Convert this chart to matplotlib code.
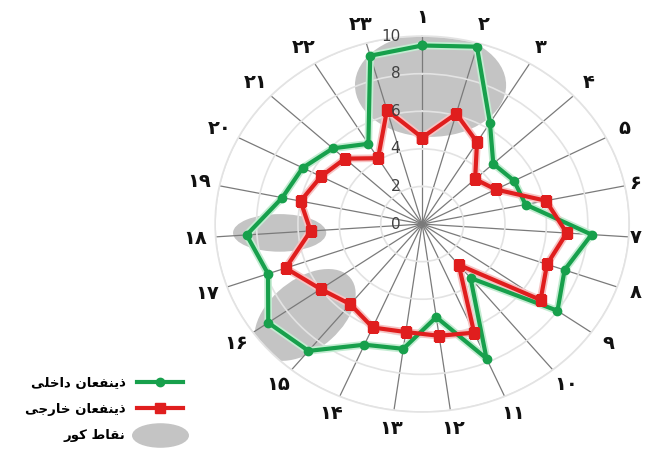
import matplotlib
matplotlib.use("Agg")
import matplotlib.pyplot as plt
from matplotlib.patches import Ellipse
from matplotlib.lines import Line2D
from matplotlib.path import Path
import matplotlib.transforms as mtransforms
import numpy as np

# ---- data ----
categories = ["۱", "۲", "۳", "۴", "۵", "۶", "۷", "۸", "۹", "۱۰", "۱۱", "۱۲",
              "۱۳", "۱۴", "۱۵", "۱۶", "۱۷", "۱۸", "۱۹", "۲۰", "۲۱", "۲۲", "۲۳"]
internal = [9.5, 9.8, 6.3, 4.7, 5.0, 5.1, 8.2, 7.3, 8.0, 3.7, 7.8, 5.0,
            6.7, 7.0, 8.7, 9.1, 7.9, 8.5, 6.9, 6.5, 5.9, 5.0, 9.3]
external = [4.6, 6.1, 5.1, 3.5, 4.0, 6.1, 7.0, 6.4, 7.0, 2.8, 6.3, 6.0,
            5.8, 6.0, 5.5, 6.0, 7.0, 5.4, 6.0, 5.5, 5.1, 4.1, 6.3]
r_ticks = [0, 2, 4, 6, 8, 10]
label_internal = "ذینفعان داخلی"
label_external = "ذینفعان خارجی"
label_blind = "نقاط کور"
# blind spots: (axis position, radius, width, height, angle) in value units
blind_spots = [(0.2, 7.4, 7.3, 5.5, 0),
               (17.0, 6.9, 4.5, 2.0, 0),
               (14.66, 7.44, 5.9, 3.6, 45)]

# minimal arabic/persian shaping (no reshaper installed)
FORMS = {
    "ا": ("\uFE8D", "\uFE8E", None, None),
    "د": ("\uFEA9", "\uFEAA", None, None),
    "ذ": ("\uFEAB", "\uFEAC", None, None),
    "ر": ("\uFEAD", "\uFEAE", None, None),
    "و": ("\uFEED", "\uFEEE", None, None),
    "ن": ("\uFEE5", "\uFEE6", "\uFEE7", "\uFEE8"),
    "ف": ("\uFED1", "\uFED2", "\uFED3", "\uFED4"),
    "ع": ("\uFEC9", "\uFECA", "\uFECB", "\uFECC"),
    "خ": ("\uFEA5", "\uFEA6", "\uFEA7", "\uFEA8"),
    "ل": ("\uFEDD", "\uFEDE", "\uFEDF", "\uFEE0"),
    "ج": ("\uFE9D", "\uFE9E", "\uFE9F", "\uFEA0"),
    "ق": ("\uFED5", "\uFED6", "\uFED7", "\uFED8"),
    "ط": ("\uFEC1", "\uFEC2", "\uFEC3", "\uFEC4"),
    "ی": ("\uFBFC", "\uFBFD", "\uFBFE", "\uFBFF"),
    "ک": ("\uFB8E", "\uFB8F", "\uFB90", "\uFB91"),
}


def shape(txt):
    out = []
    for i, ch in enumerate(txt):
        if ch not in FORMS:
            out.append(ch)
            continue
        prev = txt[i - 1] if i > 0 else ""
        nxt = txt[i + 1] if i + 1 < len(txt) else ""
        j_prev = prev in FORMS and FORMS[prev][2] is not None
        j_next = FORMS[ch][2] is not None and nxt in FORMS
        f = FORMS[ch]
        if j_prev and j_next:
            out.append(f[3])
        elif j_prev:
            out.append(f[1])
        elif j_next:
            out.append(f[2])
        else:
            out.append(f[0])
    return "".join(out)[::-1]


green = "#17a04c"
red = "#e01e1e"
gray = "#c4c4c4"

n = len(categories)
theta = np.arange(n) * 2 * np.pi / n

fig = plt.figure(figsize=(6.46, 4.54), dpi=100)
ax = fig.add_axes([0.333, 0.0925, 0.641, 0.828], projection="polar")
ax.set_aspect("auto")
ax.set_theta_zero_location("N")
ax.set_theta_direction(-1)
ax.set_ylim(0, 10)

ax.set_xticks(theta)
ax.set_xticklabels([])
ax.set_yticks(r_ticks)
ax.set_yticklabels([])
ax.xaxis.grid(True, color="#7a7a7a", linewidth=0.9)
ax.yaxis.grid(True, color="#e3e3e3", linewidth=1.2)
ax.spines["polar"].set_color("#e3e3e3")
ax.spines["polar"].set_linewidth(1.2)
ax.tick_params(length=0)

# blind spot ellipses, placed in axes fraction from polar position
for pos, rr, w, h, ang in blind_spots:
    t = pos * 2 * np.pi / n
    cx = 0.5 + 0.5 * rr * np.sin(t) / 10
    cy = 0.5 + 0.5 * rr * np.cos(t) / 10
    ax.add_patch(Ellipse((cx, cy), w / 20, h / 20, angle=ang,
                         transform=ax.transAxes, facecolor=gray,
                         edgecolor="none", zorder=1))

tc = np.append(theta, theta[0])
# soft glow under the lines
ax.plot(tc, internal + internal[:1], color="#c4ecd2", linewidth=5.5,
        solid_joinstyle="round", zorder=3)
ax.plot(tc, external + external[:1], color="#f6c4c4", linewidth=5.5,
        solid_joinstyle="round", zorder=3)
ax.plot(tc, internal + internal[:1], color=green, linewidth=3,
        marker="o", markersize=6, zorder=4)
ax.plot(tc, external + external[:1], color=red, linewidth=3,
        marker="s", markersize=6.5, zorder=5)

# radial value labels, just left of the vertical axis
off = mtransforms.offset_copy(ax.transData, fig=fig, x=-22, y=0, units="dots")
for v in r_ticks:
    ax.text(0, v, str(v), transform=off, ha="right", va="center",
            fontsize=11, color="#404040", zorder=6)

# category labels (kept inside the right edge)
for t, lab in zip(theta, categories):
    r_lab = 11.0
    if np.sin(t) * r_lab > 10.3:
        r_lab = 10.3 / np.sin(t)
    ax.text(t, r_lab, lab, ha="center", va="center", fontsize=14,
            fontweight="bold", color="#111111", clip_on=False)

# legend
ell = Path.unit_circle().transformed(mtransforms.Affine2D().scale(2.4, 1.0))
handles = [
    Line2D([0], [0], color=green, linewidth=3, marker="o", markersize=6),
    Line2D([0], [0], color=red, linewidth=3, marker="s", markersize=7),
    Line2D([0], [0], color=gray, marker=ell, linestyle="none",
           markersize=40),
]
leg = fig.legend(handles, [shape(label_internal), shape(label_external),
                           shape(label_blind)],
                 loc="lower left", bbox_to_anchor=(0.02, 0.0),
                 frameon=False, prop={"size": 9.5, "weight": "bold"},
                 markerfirst=False, handlelength=3.5, handletextpad=0.9,
                 labelspacing=1.0, alignment="right")

fig.savefig("out.png", dpi=100)
